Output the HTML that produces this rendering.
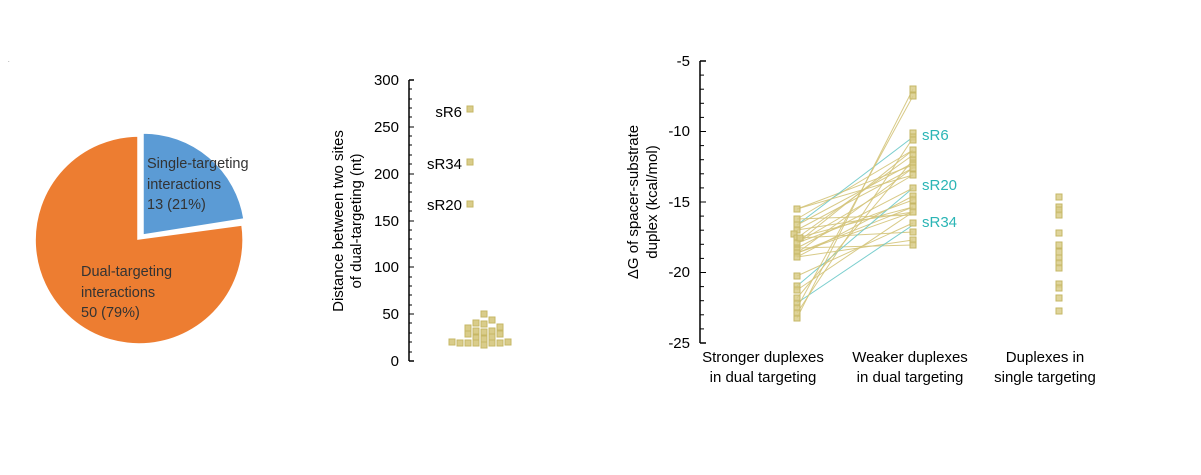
<!DOCTYPE html>
<html><head><meta charset="utf-8"><style>
html,body{margin:0;padding:0;background:#fff}
svg{display:block;font-family:"Liberation Sans",Arial,sans-serif}
</style></head><body>
<svg width="1201" height="475" viewBox="0 0 1201 475" xmlns="http://www.w3.org/2000/svg">
<!-- Pie -->
<path d="M138,239 L138,136 A104,104 0 1 0 242,225 Z" fill="#ed7d31" stroke="#fff" stroke-width="1.5"/>
<path d="M143,235 L143,133 A102,102 0 0 1 244,219 Z" fill="#5b9bd5" stroke="#fff" stroke-width="1.5"/>
<g font-size="14.5" fill="#333">
<text x="147" y="168">Single-targeting</text>
<text x="147" y="189">interactions</text>
<text x="147" y="209">13 (21%)</text>
<text x="81" y="276">Dual-targeting</text>
<text x="81" y="297">interactions</text>
<text x="81" y="317">50 (79%)</text>
</g>
<text x="8" y="62" font-size="6" fill="#666">.</text>

<!-- Middle plot -->
<g stroke="#000" stroke-width="1.5" fill="none">
<line x1="409" y1="80" x2="409" y2="361"/>
<line x1="409" y1="80" x2="414" y2="80"/>
<line x1="409" y1="361" x2="414" y2="361"/>
</g>
<g stroke="#000" stroke-width="1">
<line x1="409" y1="127" x2="414" y2="127"/><line x1="409" y1="174" x2="414" y2="174"/><line x1="409" y1="221" x2="414" y2="221"/><line x1="409" y1="267" x2="414" y2="267"/><line x1="409" y1="314" x2="414" y2="314"/>
<line x1="409" y1="89" x2="412" y2="89"/><line x1="409" y1="99" x2="412" y2="99"/><line x1="409" y1="108" x2="412" y2="108"/><line x1="409" y1="117" x2="412" y2="117"/>
<line x1="409" y1="136" x2="412" y2="136"/><line x1="409" y1="145" x2="412" y2="145"/><line x1="409" y1="155" x2="412" y2="155"/><line x1="409" y1="164" x2="412" y2="164"/>
<line x1="409" y1="183" x2="412" y2="183"/><line x1="409" y1="192" x2="412" y2="192"/><line x1="409" y1="202" x2="412" y2="202"/><line x1="409" y1="211" x2="412" y2="211"/>
<line x1="409" y1="230" x2="412" y2="230"/><line x1="409" y1="239" x2="412" y2="239"/><line x1="409" y1="249" x2="412" y2="249"/><line x1="409" y1="258" x2="412" y2="258"/>
<line x1="409" y1="277" x2="412" y2="277"/><line x1="409" y1="286" x2="412" y2="286"/><line x1="409" y1="295" x2="412" y2="295"/><line x1="409" y1="305" x2="412" y2="305"/>
<line x1="409" y1="323" x2="412" y2="323"/><line x1="409" y1="333" x2="412" y2="333"/><line x1="409" y1="342" x2="412" y2="342"/><line x1="409" y1="352" x2="412" y2="352"/>
</g>
<g font-size="15" fill="#000" text-anchor="end">
<text x="399" y="85">300</text><text x="399" y="132">250</text><text x="399" y="179">200</text><text x="399" y="226">150</text><text x="399" y="272">100</text><text x="399" y="319">50</text><text x="399" y="366">0</text>
<text x="462" y="117">sR6</text><text x="462" y="169">sR34</text><text x="462" y="210">sR20</text>
</g>
<text transform="translate(343,221) rotate(-90)" font-size="15" text-anchor="middle">Distance between two sites</text>
<text transform="translate(361,221) rotate(-90)" font-size="15" text-anchor="middle">of dual-targeting (nt)</text>
<g fill="#d9cc8a" stroke="#c6b765" stroke-width="1">
<rect x="467" y="106" width="6" height="6"/><rect x="467" y="159" width="6" height="6"/><rect x="467" y="201" width="6" height="6"/>
<rect x="481" y="311" width="6" height="6"/>
<rect x="473" y="320" width="6" height="6"/><rect x="489" y="317" width="6" height="6"/>
<rect x="465" y="325" width="6" height="6"/><rect x="481" y="321" width="6" height="6"/><rect x="497" y="324" width="6" height="6"/>
<rect x="465" y="331" width="6" height="6"/><rect x="473" y="328" width="6" height="6"/><rect x="481" y="329" width="6" height="6"/><rect x="489" y="328" width="6" height="6"/><rect x="497" y="331" width="6" height="6"/>
<rect x="473" y="335" width="6" height="6"/><rect x="481" y="336" width="6" height="6"/><rect x="489" y="334" width="6" height="6"/>
<rect x="449" y="339" width="6" height="6"/><rect x="457" y="340" width="6" height="6"/><rect x="465" y="340" width="6" height="6"/><rect x="473" y="340" width="6" height="6"/><rect x="481" y="342" width="6" height="6"/><rect x="489" y="340" width="6" height="6"/><rect x="497" y="340" width="6" height="6"/><rect x="505" y="339" width="6" height="6"/>
</g>

<!-- Right plot -->
<g stroke="#000" stroke-width="1.5" fill="none">
<line x1="700" y1="61" x2="700" y2="343"/>
<line x1="700" y1="61" x2="706" y2="61"/>
<line x1="700" y1="343" x2="706" y2="343"/>
</g>
<g stroke="#000" stroke-width="1" id="rt"></g>
<g font-size="15" fill="#000" text-anchor="end">
<text x="690" y="66">-5</text><text x="690" y="136">-10</text><text x="690" y="207">-15</text><text x="690" y="277">-20</text><text x="690" y="348">-25</text>
</g>
<text transform="translate(638,202) rotate(-90)" font-size="15" text-anchor="middle">ΔG of spacer-substrate</text>
<text transform="translate(657,202) rotate(-90)" font-size="15" text-anchor="middle">duplex (kcal/mol)</text>
<g font-size="15" fill="#000" text-anchor="middle">
<text x="763" y="362">Stronger duplexes</text><text x="763" y="382">in dual targeting</text>
<text x="910" y="362">Weaker duplexes</text><text x="910" y="382">in dual targeting</text>
<text x="1045" y="362">Duplexes in</text><text x="1045" y="382">single targeting</text>
</g>
<g font-size="15" fill="#2bb5b5">
<text x="922" y="140">sR6</text><text x="922" y="190">sR20</text><text x="922" y="227">sR34</text>
</g>
<g id="lines" stroke-width="1"></g>
<g id="pts" fill="#d9cc8a" stroke="#c6b765" stroke-width="1" fill-opacity="0.85"></g>
</svg>
<script>
var ns="http://www.w3.org/2000/svg";
function el(p,t,a){var e=document.createElementNS(ns,t);for(var k in a)e.setAttribute(k,a[k]);document.getElementById(p).appendChild(e);}
for(var i=1;i<20;i++){var y=61+i*14.1;var maj=(i%5==0);el("rt","line",{x1:700,y1:y,x2:maj?706:704,y2:y});}
var pairs=[[209,165],[219,150],[225,137,1],[230,168],[238,155],[238,207],[243,175],[248,188],[253,212],[257,196],[238,232],[230,212],[225,163],[248,245],[253,207],[257,240],[243,150],[276,223],[286,188,1],[290,212],[303,225,1],[308,96],[318,89],[313,138],[298,160],[253,168],[243,200],[219,215],[209,175]];
pairs.forEach(function(p){el("lines","line",{x1:797,y1:p[0],x2:913,y2:p[1],stroke:p[2]?"#6cc9c9":"#d4c47a","stroke-opacity":0.9});});
var L=[209,219,225,230,234,238,238,243,248,250,253,257,276,286,290,303,308,318,313,298];
L.forEach(function(y,i){el("pts","rect",{x:(i==4?791:794),y:y-3,width:6,height:6});});
el("pts","rect",{x:797,y:235,width:6,height:6});
var R=[89,96,133,137,140,150,155,160,163,165,168,175,188,196,200,207,212,223,232,240,245];
R.forEach(function(y){el("pts","rect",{x:910,y:y-3,width:6,height:6});});
var S=[197,207,210,215,233,245,252,258,263,268,284,288,298,311];
S.forEach(function(y){el("pts","rect",{x:1056,y:y-3,width:6,height:6});});
</script>
</body></html>
